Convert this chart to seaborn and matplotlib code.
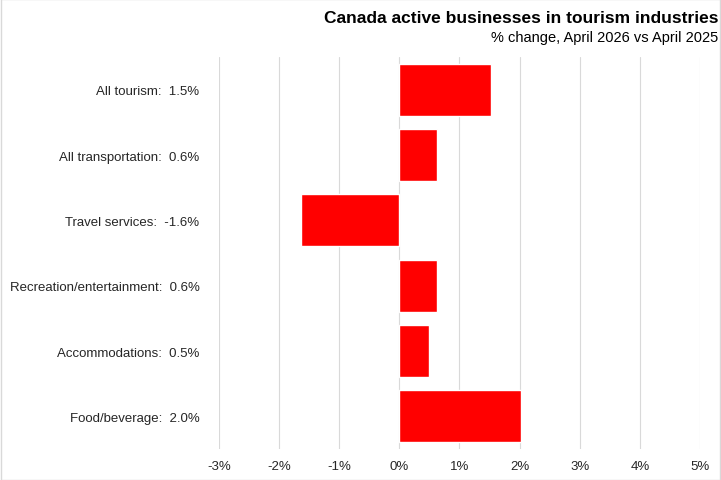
import pandas as pd
import matplotlib.pyplot as plt
import seaborn as sns
from matplotlib.ticker import FuncFormatter

# data (bar lengths, labels rounded to one decimal)
categories = ["All tourism", "All transportation", "Travel services",
              "Recreation/entertainment", "Accommodations", "Food/beverage"]
pct_change = [1.52, 0.63, -1.63, 0.63, 0.49, 2.03]
x_ticks = [-3, -2, -1, 0, 1, 2, 3, 4, 5]

df = pd.DataFrame({"category": categories, "change": pct_change})
df["label"] = [f"{c}:  {v:.1f}%" for c, v in zip(df["category"], df["change"])]

sns.set_theme(style="white")
plt.rcParams['font.family'] = ['Liberation Sans Narrow', 'Liberation Sans', 'DejaVu Sans']

fig = plt.figure(figsize=(7.21, 4.81), dpi=100)
ax = fig.add_axes([0.3037, 0.0644, 0.9709 - 0.3037, 0.8794 - 0.0644])

sns.barplot(data=df, x="change", y="label", color="#ff0000", width=0.8,
            saturation=1, ax=ax, orient="h")

ax.set_xlim(-3, 5)
ax.set_ylim(5.5, -0.5)
ax.set_xticks(x_ticks)
ax.xaxis.set_major_formatter(FuncFormatter(lambda v, p: f"{v:.0f}%"))
ax.grid(axis="x", color="#d9d9d9", linewidth=0.8)
ax.set_axisbelow(True)
for s in ax.spines.values():
    s.set_visible(False)
ax.tick_params(axis="both", length=0, labelsize=9.5, labelcolor="#262626")
ax.tick_params(axis="y", pad=14)
ax.tick_params(axis="x", pad=8)
ax.set_xlabel("")
ax.set_ylabel("")

fig.text(0.996, 0.962, "Canada active businesses in tourism industries",
         ha="right", va="center", fontsize=12.5, fontweight="bold", color="black")
fig.text(0.996, 0.921, "% change, April 2026 vs April 2025",
         ha="right", va="center", fontsize=10.5, color="black")

# light frame around the chart
fig.patches.append(plt.Rectangle((0.001, 0.001), 0.998, 0.998, transform=fig.transFigure,
                                 fill=False, edgecolor="#d9d9d9", linewidth=1))

plt.savefig("out.png", dpi=100)
